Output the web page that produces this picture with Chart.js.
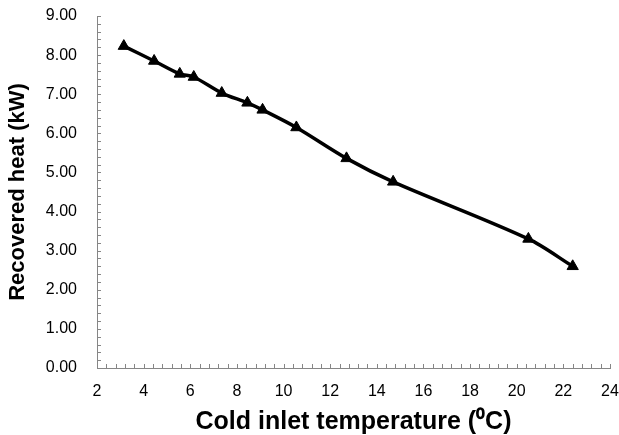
<!DOCTYPE html>
<html>
<head>
<meta charset="utf-8">
<script src="https://cdn.jsdelivr.net/npm/chart.js@4/dist/chart.umd.min.js"></script>
<style>
	html, body { margin: 0; padding: 0; background: #fff; }
	#wrap { width: 619px; height: 435px; }
</style>
</head>
<body>
<div id="wrap"><canvas id="heatChart" width="619" height="435"></canvas></div>
<script>
	const inletTemp = [3.15, 4.45, 5.55, 6.15, 7.35, 8.45, 9.1, 10.55, 12.7, 14.7, 20.5, 22.4];
	const recoveredHeat = [8.23, 7.85, 7.52, 7.44, 7.03, 6.78, 6.60, 6.15, 5.36, 4.76, 3.30, 2.60];
	const xTicks = [2, 4, 6, 8, 10, 12, 14, 16, 18, 20, 22, 24];
	const yTicks = [0, 1, 2, 3, 4, 5, 6, 7, 8, 9];

	const FONT = "'Liberation Sans', Arial, sans-serif";
	const AXIS_GREY = '#868686';

	// small tick marks drawn inside the plot, like the original
	const minorTicks = {
		id: 'minorTicks',
		afterDraw(chart){
			const ctx = chart.ctx;
			const x = chart.scales.x, y = chart.scales.y;
			const area = chart.chartArea;
			ctx.save();
			ctx.strokeStyle = AXIS_GREY;
			ctx.lineWidth = 1;
			ctx.beginPath();
			for(let i = 0; i <= 45; i++){
				const py = Math.round(y.getPixelForValue(i * 0.2)) + 0.5;
				ctx.moveTo(area.left, py);
				ctx.lineTo(area.left + 4, py);
			}
			for(let i = 0; i <= 55; i++){
				const px = Math.round(x.getPixelForValue(2 + i * 0.4)) + 0.5;
				ctx.moveTo(px, area.bottom);
				ctx.lineTo(px, area.bottom - 4);
			}
			ctx.stroke();
			ctx.restore();
		}
	};

	function noPad(s){
		s.paddingTop = 0; s.paddingBottom = 0;
		s.paddingLeft = 0; s.paddingRight = 0;
	}

	const points = inletTemp.map((t, i) => ({x: t, y: recoveredHeat[i]}));

	new Chart(document.getElementById('heatChart'), {
		type: 'line',
		data: {
			datasets: [{
				data: points,
				borderColor: '#000',
				backgroundColor: '#000',
				borderWidth: 3.5,
				tension: 0.3,
				pointStyle: 'triangle',
				pointRadius: 6.5,
				pointBorderWidth: 1,
				pointHoverRadius: 6.5
			}]
		},
		options: {
			responsive: false,
			animation: false,
			layout: { padding: { top: 16, right: 9, left: 0, bottom: 0 } },
			plugins: { legend: { display: false }, tooltip: { enabled: false } },
			scales: {
				x: {
					type: 'linear',
					min: 2, max: 24,
					afterBuildTicks: s => { s.ticks = xTicks.map(v => ({value: v})); },
					afterFit: s => { s.height = 67; noPad(s); },
					grid: { display: false, drawTicks: false },
					border: { display: true, color: AXIS_GREY, width: 1 },
					ticks: { color: '#000', padding: 14, maxRotation: 0, font: { family: FONT, size: 16 } },
					title: {
						display: true,
						text: 'Cold inlet temperature (\u2070C)',
						color: '#000',
						padding: { top: 0, bottom: -2 },
						font: { family: FONT, size: 25, weight: 'bold' }
					}
				},
				y: {
					min: 0, max: 9,
					afterBuildTicks: s => { s.ticks = yTicks.map(v => ({value: v})); },
					afterFit: s => { s.width = 97; noPad(s); },
					grid: { display: false, drawTicks: false },
					border: { display: true, color: AXIS_GREY, width: 1 },
					ticks: { color: '#000', padding: 20, font: { family: FONT, size: 16 }, callback: v => v.toFixed(2) },
					title: {
						display: true,
						text: 'Recovered heat (kW)',
						color: '#000',
						padding: { top: 5, bottom: 0 },
						font: { family: FONT, size: 22, weight: 'bold' }
					}
				}
			}
		},
		plugins: [minorTicks]
	});
</script>
</body>
</html>
